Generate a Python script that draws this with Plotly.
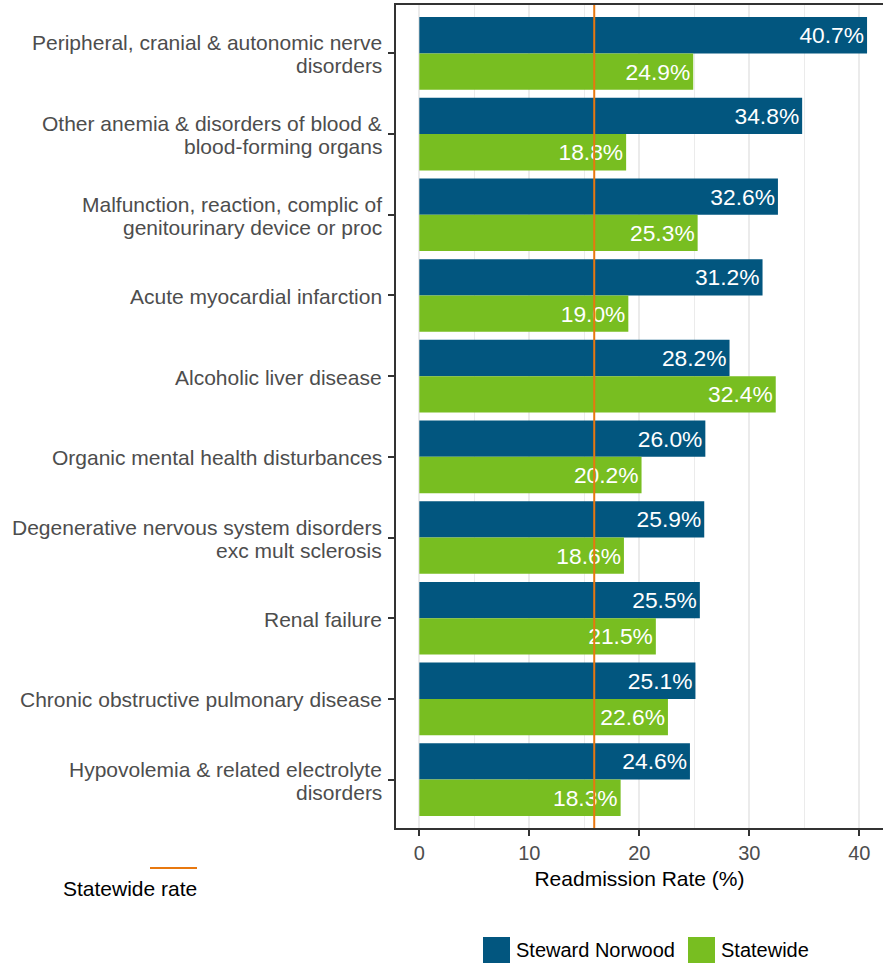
import plotly.graph_objects as go

categories = [
    "Peripheral, cranial & autonomic nerve<br>disorders",
    "Other anemia & disorders of blood &<br>blood-forming organs",
    "Malfunction, reaction, complic of<br>genitourinary device or proc",
    "Acute myocardial infarction",
    "Alcoholic liver disease",
    "Organic mental health disturbances",
    "Degenerative nervous system disorders<br>exc mult sclerosis",
    "Renal failure",
    "Chronic obstructive pulmonary disease",
    "Hypovolemia & related electrolyte<br>disorders",
]
steward_norwood = [40.7, 34.8, 32.6, 31.2, 28.2, 26.0, 25.9, 25.5, 25.1, 24.6]
statewide = [24.9, 18.8, 25.3, 19.0, 32.4, 20.2, 18.6, 21.5, 22.6, 18.3]
statewide_rate = 15.9
x_ticks = [0, 10, 20, 30, 40]

BLUE = "#02567F"
GREEN = "#78BE21"
ORANGE = "#E8780F"
FONT = "Liberation Sans, Arial, sans-serif"

fig = go.Figure()
for name, vals, col in [("Steward Norwood", steward_norwood, BLUE), ("Statewide", statewide, GREEN)]:
    fig.add_trace(go.Bar(
        y=categories, x=vals, orientation="h", name=name,
        marker=dict(color=col, line=dict(width=0)),
        text=[f"{v:.1f}%" for v in vals],
        textposition="inside", insidetextanchor="end",
        textfont=dict(color="white", size=22.8, family=FONT),
        showlegend=False, cliponaxis=False,
    ))

fig.add_shape(type="line", xref="x", yref="paper", x0=statewide_rate, x1=statewide_rate,
              y0=0, y1=1, line=dict(color=ORANGE, width=2), layer="above")

# category labels drawn as annotations for tighter line spacing
LINE_GAP = 23
for cat in categories:
    lines = cat.split("<br>")
    n = len(lines)
    for i, ln in enumerate(lines):
        shift = ((n - 1) / 2 - i) * LINE_GAP - 1
        fig.add_annotation(xref="paper", yref="y", x=0, y=cat, text=ln, showarrow=False,
                           xanchor="right", yanchor="middle", xshift=-12, yshift=shift,
                           font=dict(size=21, color="#4D4D4D", family=FONT))

# custom legends
W = 487.0
H = 823.0
def px(x):
    return (x - 396) / W
def py(y):
    return (828 - y) / H

fig.add_shape(type="line", xref="paper", yref="paper", x0=px(150), x1=px(197),
              y0=py(868), y1=py(868), line=dict(color=ORANGE, width=2))
fig.add_annotation(xref="paper", yref="paper", x=px(130), y=py(888), text="Statewide rate",
                   showarrow=False, xanchor="center", yanchor="middle",
                   font=dict(size=21, color="black", family=FONT))

legend_items = [("Steward Norwood", BLUE, 483), ("Statewide", GREEN, 688)]
for label, col, x0 in legend_items:
    fig.add_shape(type="rect", xref="paper", yref="paper", x0=px(x0), x1=px(x0 + 27),
                  y0=py(963), y1=py(937), fillcolor=col, line=dict(width=0))
    fig.add_annotation(xref="paper", yref="paper", x=px(x0 + 31), y=py(950), text=label,
                       showarrow=False, xanchor="left", yanchor="middle",
                       font=dict(size=20, color="black", family=FONT))

fig.update_layout(
    width=883, height=963,
    margin=dict(l=396, r=0, t=5, b=135),
    paper_bgcolor="white", plot_bgcolor="white",
    barmode="group", bargap=0.1, bargroupgap=0,
    font=dict(family=FONT, color="#4D4D4D"),
    showlegend=False,
)
fig.update_xaxes(
    range=[-2.12, 42.15], tickvals=x_ticks, ticktext=[str(t) for t in x_ticks],
    showgrid=True, gridcolor="#EBEBEB", gridwidth=1.5,
    minor=dict(dtick=5, tick0=0, showgrid=True, gridcolor="#EBEBEB", gridwidth=0.8, ticks=""),
    showline=True, linecolor="#333333", linewidth=2, mirror=True,
    ticks="outside", ticklen=6, tickcolor="#333333", tickwidth=2,
    tickfont=dict(size=20, color="#4D4D4D", family=FONT),
    zeroline=False,
    title=dict(text="Readmission Rate (%)", font=dict(size=21, color="black", family=FONT), standoff=8),
)
fig.update_yaxes(
    categoryorder="array", categoryarray=categories,
    range=[9.6, -0.6],
    showgrid=False, zeroline=False,
    showline=True, linecolor="#333333", linewidth=2,
    ticks="outside", ticklen=6, tickcolor="#333333", tickwidth=2,
    showticklabels=False,
)

fig.write_html("out.html", config={"displayModeBar": False},
               post_script="document.body.style.margin='0';")
